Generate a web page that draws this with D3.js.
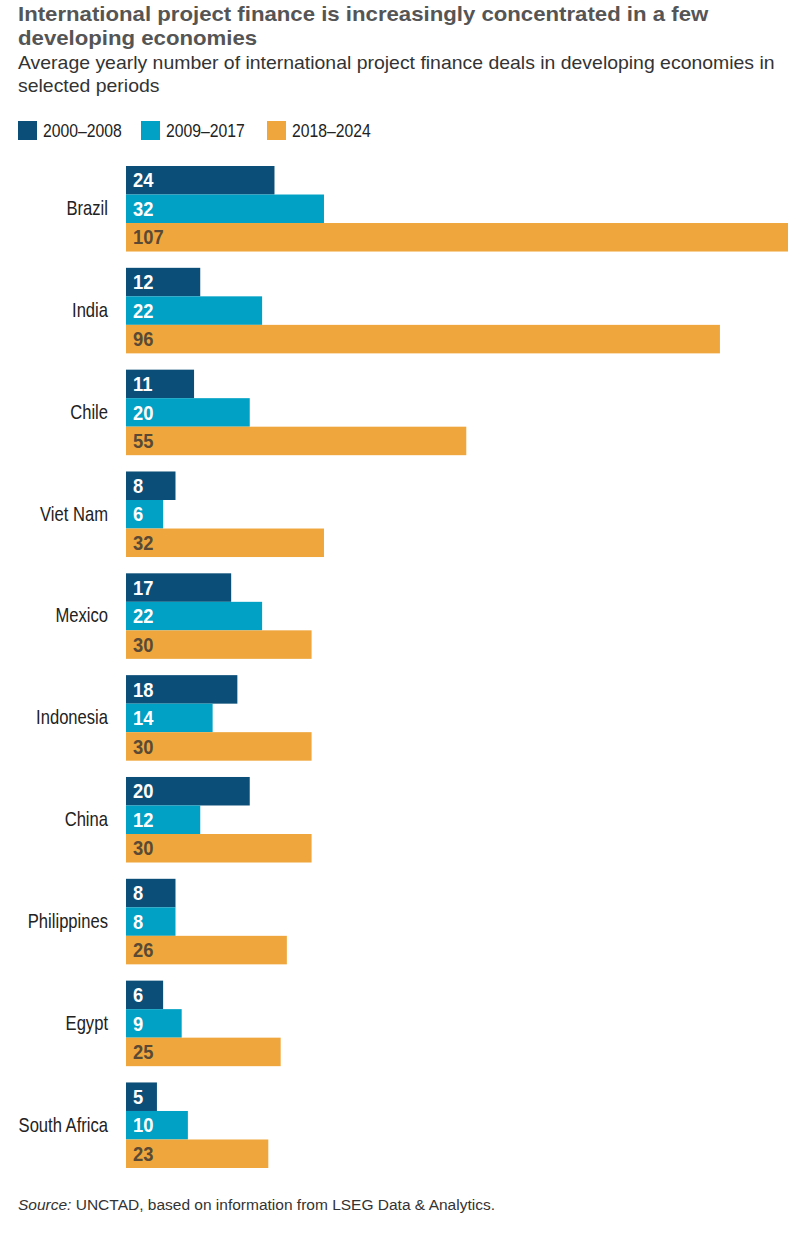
<!DOCTYPE html>
<html>
<head>
<meta charset="utf-8">
<script src="https://cdn.jsdelivr.net/npm/d3@7/dist/d3.min.js"></script>
<style>
  body { margin: 0; background: #fff; }
  svg { display: block; }
  text { font-family: "Liberation Sans", Arial, sans-serif; }
</style>
</head>
<body>
<svg width="800" height="1236"></svg>
<script>
var countries = ["Brazil", "India", "Chile", "Viet Nam", "Mexico", "Indonesia", "China", "Philippines", "Egypt", "South Africa"];
var periods = ["2000–2008", "2009–2017", "2018–2024"];
var deals2000 = [24, 12, 11, 8, 17, 18, 20, 8, 6, 5];
var deals2009 = [32, 22, 20, 6, 22, 14, 12, 8, 9, 10];
var deals2018 = [107, 96, 55, 32, 30, 30, 30, 26, 25, 23];
var barColors = ["#0b4f78", "#00a1c4", "#efa73d"];
var labelColors = ["#ffffff", "#ffffff", "#5a4a35"];

var series = [deals2000, deals2009, deals2018];
var rows = countries.map(function (c, i) {
    return { country: c, values: series.map(function (s, k) { return { period: periods[k], value: s[i], k: k }; }) };
});

// no narrow face installed, so squeeze Liberation Sans instead
var narrow = 0.83;

var svg = d3.select("svg");

// titles
var title = svg.append("g").attr("transform", "translate(18,0) scale(1.11,1)");
title.append("text").attr("y", 21)
    .style("font-size", "20px").style("font-weight", "bold").style("fill", "#555")
    .text("International project finance is increasingly concentrated in a few");
title.append("text").attr("y", 45)
    .style("font-size", "20px").style("font-weight", "bold").style("fill", "#555")
    .text("developing economies");
var sub = svg.append("g").attr("transform", "translate(18,0) scale(1.08,1)");
sub.append("text").attr("y", 69)
    .style("font-size", "18px").style("fill", "#333")
    .text("Average yearly number of international project finance deals in developing economies in");
sub.append("text").attr("y", 92)
    .style("font-size", "18px").style("fill", "#333")
    .text("selected periods");

// legend
var legendX = [18, 141, 267];
var legend = svg.append("g")
    .selectAll("g").data(periods).enter().append("g")
    .attr("transform", function (d, i) { return "translate(" + legendX[i] + ",121)"; });
legend.append("rect").attr("width", 19).attr("height", 19)
    .style("fill", function (d, i) { return barColors[i]; });
legend.append("text")
    .attr("transform", "translate(25,16) scale(" + narrow + ",1)")
    .style("font-size", "19px").style("fill", "#222")
    .text(function (d) { return d; });

// scales
var x = d3.scaleLinear().domain([0, 107]).range([126, 788]);
var y = d3.scaleBand().domain(countries).range([166, 1168]).paddingInner(0.16).paddingOuter(0);
var y1 = d3.scaleBand().domain([0, 1, 2]).range([0, y.bandwidth()]);

var yAxis = svg.append("g")
    .attr("transform", "translate(108,0)")
    .call(d3.axisLeft(y).tickSize(0).tickPadding(0));
yAxis.select(".domain").remove();
yAxis.selectAll("text")
    .attr("transform", "scale(" + narrow + ",1)")
    .style("font-size", "20px").style("fill", "#222").style("font-family", null);
yAxis.attr("font-family", null).attr("font-size", null);

var groups = svg.append("g").selectAll("g").data(rows).enter().append("g")
    .attr("transform", function (d) { return "translate(0," + y(d.country) + ")"; });

groups.selectAll("rect").data(function (d) { return d.values; }).enter().append("rect")
    .attr("x", x(0))
    .attr("y", function (d) { return y1(d.k); })
    .attr("width", function (d) { return x(d.value) - x(0); })
    .attr("height", y1.bandwidth())
    .style("fill", function (d) { return barColors[d.k]; });

groups.selectAll("text").data(function (d) { return d.values; }).enter().append("text")
    .attr("transform", function (d) {
        return "translate(" + (x(0) + 7) + "," + (y1(d.k) + y1.bandwidth() / 2) + ") scale(0.92,1)";
    })
    .attr("dy", "0.36em")
    .style("font-size", "20px").style("font-weight", "bold")
    .style("fill", function (d) { return labelColors[d.k]; })
    .text(function (d) { return d.value; });

// source
var src = svg.append("text").attr("x", 18).attr("y", 1210)
    .style("font-size", "15.5px").style("fill", "#333");
src.append("tspan").style("font-style", "italic").text("Source:");
src.append("tspan").text(" UNCTAD, based on information from LSEG Data & Analytics.");
</script>
</body>
</html>
